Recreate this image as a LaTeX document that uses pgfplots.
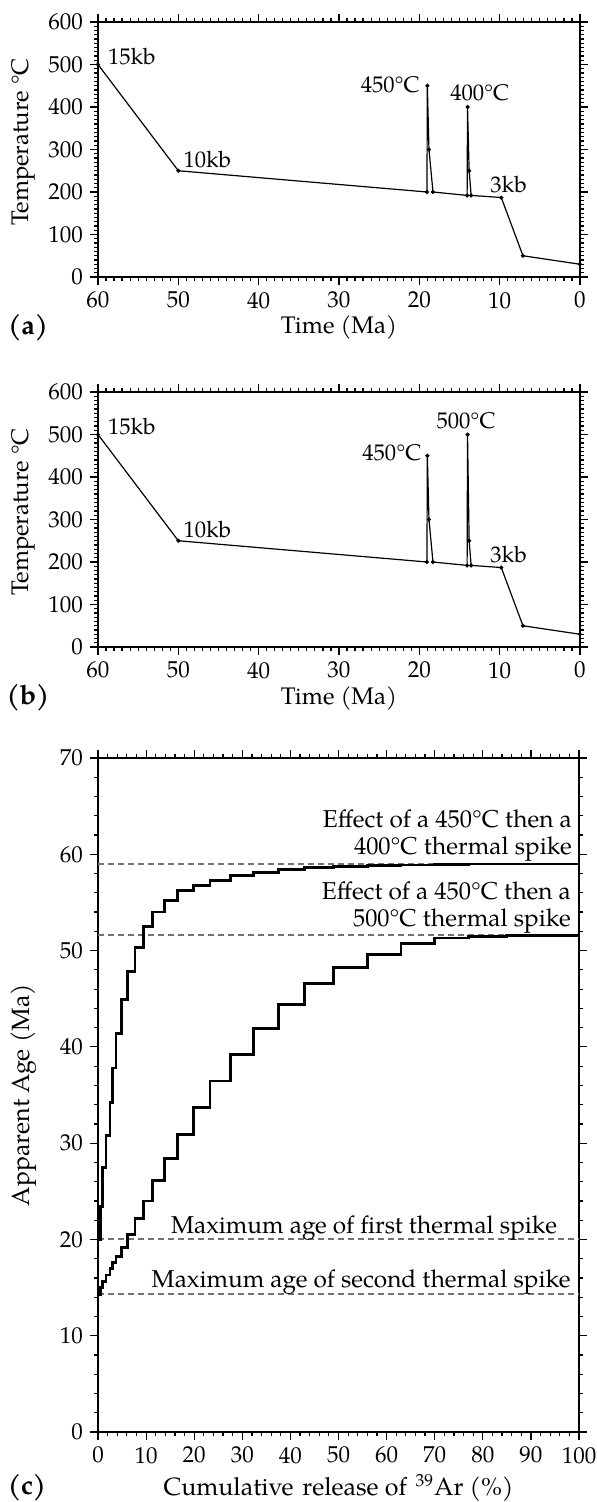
\documentclass[border=0pt]{standalone}
\usepackage{fontspec}
\setmainfont{TeX Gyre Pagella}
\usepackage{pgfplots}
\pgfplotsset{compat=1.18}
\definecolor{dgray}{RGB}{115,115,115}
\tikzset{
 trace/.style={black, line width=0.6pt, mark=*, mark size=0.7pt},
 lab/.style={font=\fontsize{11.3}{13}\selectfont, inner sep=0pt},
 clab/.style={font=\fontsize{12.2}{14}\selectfont, inner sep=0pt},
 ref/.style={dgray, line width=1pt, dash pattern=on 3pt off 2pt}
}
\begin{document}
\begin{tikzpicture}
\path[use as bounding box] (0,0) rectangle (298.5pt,-751pt);
\pgfplotsset{
 base/.style={scale only axis, clip=false,
   axis line style={line width=0.8pt},
   tick align=outside, major tick length=4pt, minor tick length=2pt,
   every tick/.style={black, line width=0.6pt},
   tick label style={font=\fontsize{11.5}{13}\selectfont},
   /pgf/number format/assume math mode=true,
   label style={font=\fontsize{12}{14}\selectfont}},
 temp/.style={base, width=241pt, height=127.5pt,
   xmin=0, xmax=60, x dir=reverse, ymin=0, ymax=600,
   xtick={0,10,...,60}, ytick={0,100,...,600},
   minor x tick num=9, minor y tick num=9,
   xlabel={Time (Ma)}, ylabel={Temperature °C},
   xlabel style={at={(axis description cs:0.5,-0.2)}, anchor=center},
   ylabel style={at={(axis description cs:-0.155,0.53)}, anchor=center}}
}
% ---------- (a)
\begin{axis}[temp, at={(49pt,-138.5pt)}, anchor=south west]
\addplot[trace] coordinates {(60,500) (50,250) (19.05,200) (19.0,450) (18.8,300) (18.3,200) (14.05,192) (14.0,400) (13.8,250) (13.55,192) (9.8,187) (7.1,50) (0,30)};
\node[lab, anchor=base west] at (axis cs:58.8,500) {15kb};
\node[lab, anchor=base west] at (axis cs:49.4,257) {10kb};
\node[lab, anchor=base east] at (axis cs:19.9,433) {450°C};
\node[lab, anchor=base west] at (axis cs:16.2,416) {400°C};
\node[lab, anchor=base west] at (axis cs:11.2,199) {3kb};
\end{axis}
% ---------- (b)
\begin{axis}[temp, at={(49pt,-323.5pt)}, anchor=south west]
\addplot[trace] coordinates {(60,500) (50,250) (19.05,200) (19.0,450) (18.8,300) (18.3,200) (14.05,192) (14.0,500) (13.8,250) (13.55,192) (9.8,187) (7.1,50) (0,30)};
\node[lab, anchor=base west] at (axis cs:58.8,500) {15kb};
\node[lab, anchor=base west] at (axis cs:49.4,257) {10kb};
\node[lab, anchor=base east] at (axis cs:19.7,439) {450°C};
\node[lab, anchor=base west] at (axis cs:17.9,514) {500°C};
\node[lab, anchor=base west] at (axis cs:11.2,199) {3kb};
\end{axis}
% ---------- (c)
\begin{axis}[base, at={(49pt,-716pt)}, anchor=south west,
   width=240.5pt, height=337pt,
   xmin=0, xmax=100, ymin=0, ymax=70,
   xtick={0,10,...,100}, ytick={0,10,...,70},
   minor x tick num=4, minor y tick num=4,
   xlabel={Cumulative\hspace{0.35em}release of\hspace{0.35em}\textsuperscript{39}Ar (\%)},
   ylabel={Apparent Age (Ma)},
   label style={font=\fontsize{12.5}{14}\selectfont},
   xlabel style={at={(axis description cs:0.5,-0.083)}, anchor=center},
   ylabel style={at={(axis description cs:-0.155,0.5)}, anchor=center}]
\addplot[ref] coordinates {(0,59.0) (100,59.0)};
\addplot[ref] coordinates {(0,51.6) (100,51.6)};
\addplot[ref] coordinates {(0,20.0) (100,20.0)};
\addplot[ref] coordinates {(0,14.3) (100,14.3)};
\addplot[black, line width=1.4pt, const plot] coordinates {
 (0,20) (0.5,23.4) (0.97,27.5) (1.65,30.8) (2.5,34.2) (3.05,37.8) (3.75,41.4)
 (4.9,44.9) (6.15,47.8) (7.7,50.3) (9.4,52.5) (11.4,54.0) (13.8,55.2) (16.5,56.2)
 (19.8,56.8) (23.3,57.3) (27.6,57.8) (32.3,58.1) (37.5,58.4) (43,58.6) (49,58.75)
 (56,58.85) (63,58.9) (70,58.95) (77,59.0) (100,59.0)};
\addplot[black, line width=1.4pt, const plot] coordinates {
 (0,14.3) (0.5,15.0) (0.97,15.6) (1.65,16.3) (2.5,17.0) (3.05,17.6) (3.75,18.2)
 (4.9,19.2) (6.15,20.5) (7.7,22.2) (9.4,24.0) (11.4,26.1) (13.8,28.4) (16.5,30.9)
 (19.8,33.7) (23.3,36.45) (27.6,39.2) (32.3,41.9) (37.5,44.4) (43,46.6) (49,48.25)
 (56,49.6) (63,50.7) (70,51.3) (77,51.5) (85,51.6) (100,51.6)};
\node[clab, anchor=base east] at (axis cs:98.6,62.8) {Effect of a 450°C then a};
\node[clab, anchor=base east] at (axis cs:98.6,60.0) {400°C thermal spike};
\node[clab, anchor=base east] at (axis cs:98.4,55.3) {Effect of a 450°C then a};
\node[clab, anchor=base east] at (axis cs:98.4,52.5) {500°C thermal spike};
\node[clab, anchor=base] at (axis cs:55.3,20.6) {Maximum age of first thermal spike};
\node[clab, anchor=base] at (axis cs:54.7,15.0) {Maximum age of second thermal spike};
\end{axis}
\node[font=\fontsize{13.5}{16}\selectfont\bfseries] at (14pt,-164pt) {(a)};
\node[font=\fontsize{13.5}{16}\selectfont\bfseries] at (14pt,-348.9pt) {(b)};
\node[font=\fontsize{13.5}{16}\selectfont\bfseries] at (13.5pt,-744pt) {(c)};
\end{tikzpicture}
\end{document}
